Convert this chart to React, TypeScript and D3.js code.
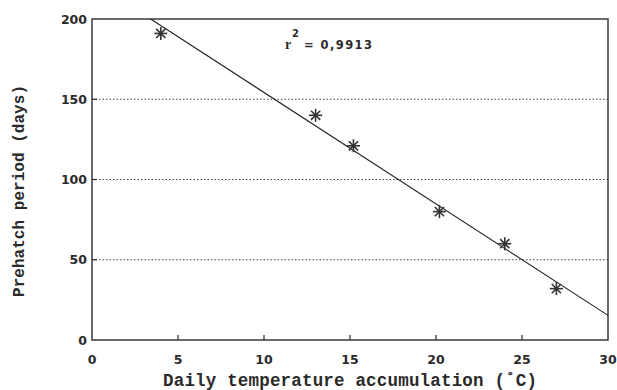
import React from "react";
import * as d3 from "d3";

const xValues = [4, 13, 15.2, 20.2, 24, 27];
const yValues = [191, 140, 121, 80, 60, 32];
const xTicks = [0, 5, 10, 15, 20, 25, 30];
const yTicks = [0, 50, 100, 150, 200];
const gridValues = [50, 100, 150];
const fitSlope = -6.944;
const fitIntercept = 223.67;
const r2Text = "0,9913";

const W = 617;
const H = 390;
const M = { left: 92, right: 9, top: 19, bottom: 50 };

export default function App() {
  const x = d3.scaleLinear().domain([0, 30]).range([M.left, W - M.right]);
  const y = d3.scaleLinear().domain([0, 200]).range([H - M.bottom, M.top]);
  const [x0, x1] = x.range();
  const [yb, yt] = y.range();
  const ink = "#2a2a2a";

  const xStart = (200 - fitIntercept) / fitSlope;
  const fitPts: [number, number][] = [
    [Math.max(0, xStart), fitIntercept + fitSlope * Math.max(0, xStart)],
    [30, fitIntercept + fitSlope * 30],
  ];
  const line = d3
    .line<[number, number]>()
    .x((d) => x(d[0]))
    .y((d) => y(d[1]));

  const star = (cx: number, cy: number, key: number) => {
    const r = 6.5;
    const arms = [0, 45, 90, 135].map((a) => {
      const rad = (a * Math.PI) / 180;
      return (
        <line
          key={a}
          x1={cx - r * Math.cos(rad)}
          y1={cy - r * Math.sin(rad)}
          x2={cx + r * Math.cos(rad)}
          y2={cy + r * Math.sin(rad)}
          stroke="#333"
          strokeWidth={1.6}
        />
      );
    });
    return (
      <g key={key}>
        {arms}
        <circle cx={cx} cy={cy} r={2} fill="#333" />
      </g>
    );
  };

  return (
    <svg
      width={W}
      height={H}
      style={{ position: "absolute", left: 0, top: 0, background: "#fff" }}
    >
      {gridValues.map((v) => (
        <line
          key={v}
          x1={x0}
          x2={x1}
          y1={y(v)}
          y2={y(v)}
          stroke="#444"
          strokeWidth={1}
          strokeDasharray="1.5,2"
        />
      ))}
      <rect
        x={x0}
        y={yt}
        width={x1 - x0}
        height={yb - yt}
        fill="none"
        stroke="#3a3a3a"
        strokeWidth={1.5}
      />
      {xTicks.slice(1, -1).map((t) => (
        <line key={t} x1={x(t)} x2={x(t)} y1={yb} y2={yb - 5} stroke={ink} strokeWidth={1.2} />
      ))}
      {yTicks.slice(1, -1).map((t) => (
        <line key={t} x1={x0} x2={x0 + 5} y1={y(t)} y2={y(t)} stroke={ink} strokeWidth={1.2} />
      ))}
      {xTicks.map((t) => (
        <text
          key={t}
          x={x(t)}
          y={yb + 24}
          textAnchor="middle"
          fontFamily="DejaVu Sans"
          fontWeight="bold"
          fontSize={12.5}
          fill={ink}
        >
          {t}
        </text>
      ))}
      {yTicks.map((t) => (
        <text
          key={t}
          x={x0 - 5}
          y={y(t) + 4.5}
          textAnchor="end"
          fontFamily="DejaVu Sans"
          fontWeight="bold"
          fontSize={12.5}
          fill={ink}
        >
          {t}
        </text>
      ))}
      <path d={line(fitPts) || ""} fill="none" stroke="#222" strokeWidth={1.1} />
      {xValues.map((xv, i) => star(x(xv), y(yValues[i]), i))}
      <text
        x={285}
        y={49}
        fontFamily="Liberation Serif"
        fontWeight="bold"
        fontSize={14}
        fill={ink}
      >
        r
      </text>
      <text
        x={292}
        y={37}
        fontFamily="DejaVu Sans"
        fontWeight="bold"
        fontSize={10}
        fill={ink}
      >
        2
      </text>
      <text
        x={304}
        y={49}
        fontFamily="DejaVu Sans"
        fontWeight="bold"
        fontSize={11.5}
        fill={ink}
        textLength={68}
        lengthAdjust="spacing"
      >
        {"= " + r2Text}
      </text>
      <text
        x={350}
        y={386}
        textAnchor="middle"
        fontFamily="Liberation Mono"
        fontWeight="bold"
        fontSize={17.5}
        fill={ink}
        textLength={374}
        lengthAdjust="spacing"
      >
        Daily temperature accumulation (˚C)
      </text>
      <text
        transform={`translate(24,191) rotate(-90)`}
        textAnchor="middle"
        fontFamily="Liberation Mono"
        fontWeight="bold"
        fontSize={16}
        fill={ink}
        textLength={212}
        lengthAdjust="spacing"
      >
        Prehatch period (days)
      </text>
    </svg>
  );
}
